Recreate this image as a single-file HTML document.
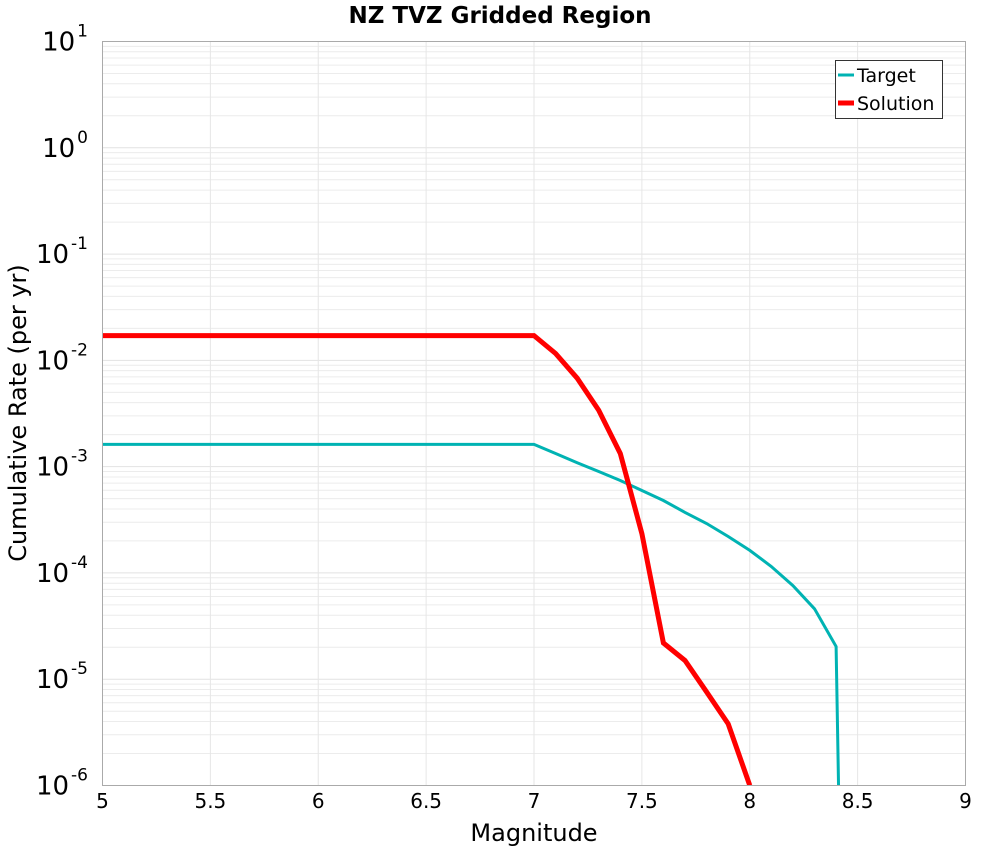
<!DOCTYPE html>
<html><head><meta charset="utf-8">
<style>
body{margin:0;background:#fff;}
svg{display:block;font-family:"DejaVu Sans","Liberation Sans",sans-serif;}
</style></head>
<body>
<svg id="chart" width="1000" height="850">
<defs><clipPath id="pc"><rect x="102.5" y="41.5" width="863" height="744"/></clipPath></defs>
<text x="500" y="23" text-anchor="middle" font-size="23" font-weight="bold">NZ TVZ Gridded Region</text>
<g id="grid"></g>
<g id="series" clip-path="url(#pc)"></g>
<rect x="102.5" y="41.5" width="863" height="744" fill="none" stroke="#aaa" stroke-width="1"/>
<g id="ticks"></g>
<text x="534" y="841" text-anchor="middle" font-size="24">Magnitude</text>
<text transform="translate(26,413) rotate(-90)" text-anchor="middle" font-size="24">Cumulative Rate (per yr)</text>
<g>
<rect x="835.5" y="60.5" width="107" height="58" fill="#fff" stroke="#333" stroke-width="1"/>
<line x1="838" y1="75" x2="854" y2="75" stroke="#00b3b3" stroke-width="3"/>
<text x="857" y="82" font-size="19">Target</text>
<line x1="838" y1="103" x2="854" y2="103" stroke="#ff0000" stroke-width="5"/>
<text x="857" y="110" font-size="19">Solution</text>
</g>
</svg>
<script>
const xTicks=[5,5.5,6,6.5,7,7.5,8,8.5,9];
const xTickLabels=["5","5.5","6","6.5","7","7.5","8","8.5","9"];
const yDecades=[1,0,-1,-2,-3,-4,-5,-6];
const targetMag=[5,7.0,7.1,7.2,7.3,7.4,7.5,7.6,7.7,7.8,7.9,8.0,8.1,8.2,8.3,8.4,8.42];
const targetRate=[1.62e-3,1.62e-3,1.33e-3,1.09e-3,9.0e-4,7.4e-4,5.97e-4,4.8e-4,3.71e-4,2.92e-4,2.2e-4,1.63e-4,1.15e-4,7.6e-5,4.6e-5,2.03e-5,1e-7];
const solutionMag=[5,7.0,7.1,7.2,7.3,7.4,7.5,7.6,7.7,7.8,7.9,8.0];
const solutionRate=[0.0171,0.0171,0.0116,0.0068,0.0034,0.00133,2.34e-4,2.19e-5,1.5e-5,7.6e-6,3.8e-6,1e-6];

const NS='http://www.w3.org/2000/svg';
const X0=102.5,X1=965.5,Y0=41.5,Y1=785.5;
function xs(v){return X0+(v-5)/4*(X1-X0);}
function ys(v){return Y0+(1-Math.log10(v))/7*(Y1-Y0);}
function mk(tag,attrs,parent){const e=document.createElementNS(NS,tag);for(const k in attrs)e.setAttribute(k,attrs[k]);parent.appendChild(e);return e;}
const grid=document.getElementById('grid'),ticks=document.getElementById('ticks'),series=document.getElementById('series');
for(let d=-6;d<1;d++){for(let m=1;m<10;m++){const v=m*Math.pow(10,d);const y=ys(v);
 const l=mk('line',{x1:X0,x2:X1,y1:y,y2:y,stroke:m===1?'#e2e2e2':'#ececec','stroke-width':1},grid);
 
 }}
xTicks.forEach((t,i)=>{const x=xs(t);
 const l=mk('line',{x1:x,x2:x,y1:Y0,y2:Y1,stroke:'#e6e6e6','stroke-width':1},grid);
 
 
 const tx=mk('text',{x:x,y:808,'text-anchor':'middle','font-size':'20'},ticks);tx.textContent=xTickLabels[i];
 
 });
yDecades.forEach(d=>{const y=ys(Math.pow(10,d));
 const t=mk('text',{x:88,y:y+9,'text-anchor':'end','font-size':'26'},ticks);
 
 
 const a=mk('tspan',{},t);a.textContent='10';
 const b=mk('tspan',{dy:'-14','font-size':'17',dx:'2'},t);b.textContent=String(d);});
function path(mags,rates,color,w,name){
 const d=mags.map((m,i)=>(i?'L':'M')+xs(m).toFixed(1)+','+ys(rates[i]).toFixed(1)).join(' ');
 const p=mk('path',{d:d,fill:'none',stroke:color,'stroke-width':w,'stroke-linejoin':'miter'},series);
 
 }
path(targetMag,targetRate,'#00b3b3',3,'target-line');
path(solutionMag,solutionRate,'#ff0000',5,'solution-line');
</script>
</body></html>
